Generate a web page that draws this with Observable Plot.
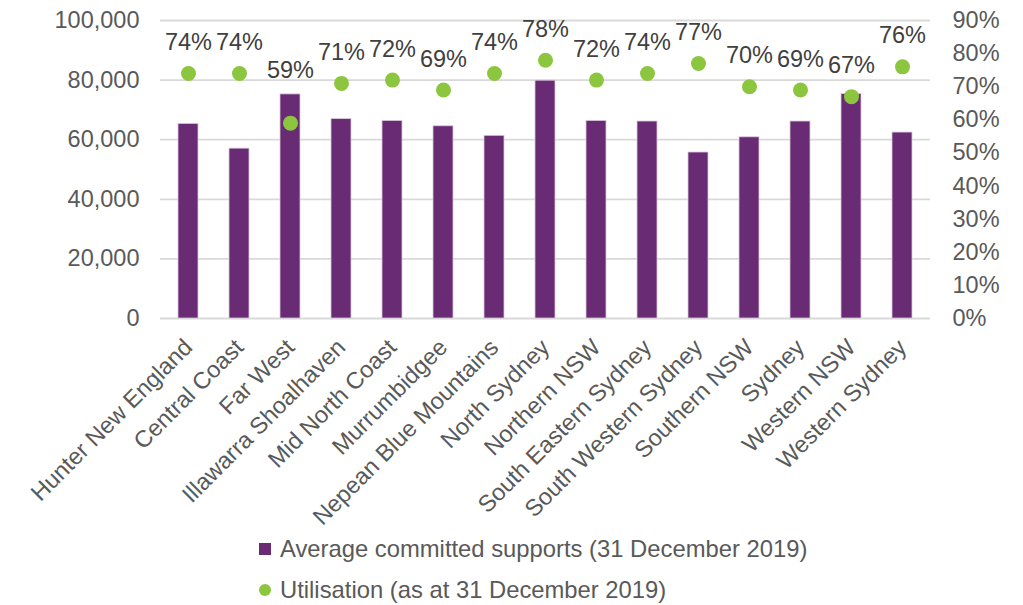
<!DOCTYPE html>
<html><head><meta charset="utf-8">
<script src="https://cdn.jsdelivr.net/npm/d3@7"></script>
<script src="https://cdn.jsdelivr.net/npm/@observablehq/plot@0.6"></script>
<style>
body{margin:0;background:#fff;font-family:Arial,"Liberation Sans",sans-serif;}
#chart{position:relative;width:1023px;height:605px;overflow:hidden;}
#chart svg{position:absolute;left:0;top:0;}
.legend{position:absolute;left:259px;font-size:23.8px;line-height:26px;color:#595959;display:flex;align-items:center;white-space:nowrap;}
.sw{width:12px;height:12px;margin-right:9px;flex:none;}
</style></head><body><div id="chart"></div>
<script>
const regions = ["Hunter New England","Central Coast","Far West","Illawarra Shoalhaven","Mid North Coast","Murrumbidgee","Nepean Blue Mountains","North Sydney","Northern NSW","South Eastern Sydney","South Western Sydney","Southern NSW","Sydney","Western NSW","Western Sydney"];
const supports = [65300,57000,75200,66900,66300,64500,61300,79800,66300,66100,55700,60800,66100,75300,62400];
const utilisation = [74,74,59,71,72,69,74,78,72,74,77,70,69,67,76];
const leftTicks = [0,20000,40000,60000,80000,100000];
const rightTicks = [0,10,20,30,40,50,60,70,80,90];
const seriesNames = ["Average committed supports (31 December 2019)","Utilisation (as at 31 December 2019)"];
const colors = ["#692b74","#8cc63f"];

const yMax = 100000, pMax = 90;
const toY = p => p / pMax * yMax;
const rows = regions.map((r, i) => ({region: r, supports: supports[i], util: utilisation[i]}));
// plot area is 298px tall for 100,000; label sits ~31px above its dot, but never on a bar
const pxToY = px => px / 298 * yMax;
const labelY = d => Math.max(toY(d.util) + pxToY(31), d.supports + pxToY(24));

const fs = 23.5;
const chart = Plot.plot({
  width: 1023, height: 530,
  marginLeft: 160, marginRight: 93, marginTop: 20, marginBottom: 212,
  style: {fontFamily: 'Arial, "Liberation Sans", sans-serif', fontSize: fs + "px", color: "#595959", background: "transparent"},
  x: {domain: regions, paddingInner: 0.61, paddingOuter: 0.305, axis: null},
  y: {domain: [0, yMax], axis: null},
  marks: [
    Plot.gridY(leftTicks, {stroke: "#d9d9d9", strokeOpacity: 1, strokeWidth: 1.8}),
    Plot.barY(rows, {x: "region", y: "supports", fill: colors[0], stroke: "#d8c8da", strokeWidth: 0.8}),
    Plot.dot(rows, {x: "region", y: d => toY(d.util), r: 7.5, fill: colors[1]}),
    Plot.text(rows, {x: "region", y: labelY, text: d => d.util + "%", fill: "#404040", fontSize: fs}),
    Plot.axisY(leftTicks, {anchor: "left", tickFormat: d3.format(","), tickSize: 0, tickPadding: 21, label: null, fontSize: fs}),
    Plot.axisY(rightTicks.map(toY), {anchor: "right", tickFormat: d => Math.round(d / yMax * pMax) + "%", tickSize: 0, tickPadding: 22, label: null, fontSize: fs}),
    Plot.axisX({tickRotate: -45, tickSize: 0, tickPadding: 25, label: null, fontSize: fs})
  ]
});
const host = document.getElementById("chart");
host.appendChild(chart);

const leg1 = document.createElement("div");
leg1.className = "legend"; leg1.style.top = "536px";
leg1.innerHTML = `<span class="sw" style="background:${colors[0]}"></span><span>${seriesNames[0]}</span>`;
const leg2 = document.createElement("div");
leg2.className = "legend"; leg2.style.top = "577px";
leg2.innerHTML = `<span class="sw" style="background:${colors[1]};border-radius:50%"></span><span>${seriesNames[1]}</span>`;
host.appendChild(leg1); host.appendChild(leg2);
</script></body></html>
